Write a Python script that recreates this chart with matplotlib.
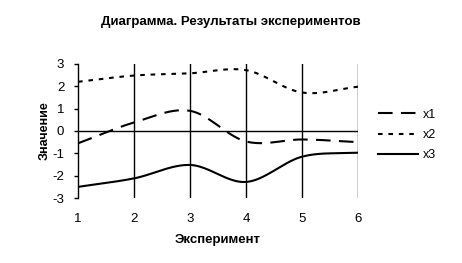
import numpy as np
import matplotlib
matplotlib.use("Agg")
import matplotlib.pyplot as plt

plt.rcParams['font.family'] = ['Liberation Sans', 'DejaVu Sans']

experiments = [1, 2, 3, 4, 5, 6]
x1 = [-0.55, 0.38, 0.9, -0.47, -0.38, -0.5]
x2 = [2.2, 2.48, 2.58, 2.72, 1.72, 1.98]
x3 = [-2.5, -2.12, -1.52, -2.28, -1.15, -0.97]
series_names = ['x1', 'x2', 'x3']
yticks = [-3, -2, -1, 0, 1, 2, 3]


def smooth(xs, ys, n=40):
    # Catmull-Rom style smoothing through the data points (Excel-like smoothed line)
    xs = np.asarray(xs, float)
    ys = np.asarray(ys, float)
    px = np.concatenate([[2 * xs[0] - xs[1]], xs, [2 * xs[-1] - xs[-2]]])
    py = np.concatenate([[2 * ys[0] - ys[1]], ys, [2 * ys[-1] - ys[-2]]])
    outx, outy = [], []
    for i in range(1, len(px) - 2):
        t = np.linspace(0, 1, n, endpoint=False)
        for arr, out in ((px, outx), (py, outy)):
            p0, p1, p2, p3 = arr[i - 1], arr[i], arr[i + 1], arr[i + 2]
            out.extend(0.5 * ((2 * p1) + (-p0 + p2) * t +
                              (2 * p0 - 5 * p1 + 4 * p2 - p3) * t ** 2 +
                              (-p0 + 3 * p1 - 3 * p2 + p3) * t ** 3))
    outx.append(xs[-1])
    outy.append(ys[-1])
    return np.array(outx), np.array(outy)


fig = plt.figure(figsize=(4.62, 2.63), dpi=100)
ax = fig.add_axes([0.169, 0.247, 0.606, 0.510])

styles = [dict(dashes=(7, 4)), dict(dashes=(2.2, 2.8)), dict(linestyle='-')]
for name, vals, st in zip(series_names, [x1, x2, x3], styles):
    sx, sy = smooth(experiments, vals)
    ax.plot(sx, sy, color='black', lw=1.5, label=name, **st)

ax.set_xlim(1, 6)
ax.set_ylim(-3, 3)
ax.set_yticks(yticks)
ax.set_yticklabels([str(v) for v in yticks], fontsize=9.5)
ax.set_xticks(experiments)
ax.set_xticklabels([str(v) for v in experiments], fontsize=9.5)
ax.tick_params(axis='x', length=0, pad=11)
ax.tick_params(axis='y', length=3, width=1, direction='out', pad=7)
for xv in experiments[1:]:
    ax.axvline(xv, color='black', lw=1, zorder=0)
ax.axhline(0, color='black', lw=1, zorder=0)
for s in ['top', 'right', 'bottom']:
    ax.spines[s].set_visible(False)
ax.spines['left'].set_linewidth(1)

ax.set_xlabel('Эксперимент', fontsize=9.5, fontweight='bold', labelpad=6)
ax.set_ylabel('Значение', fontsize=9, fontweight='bold')
ax.yaxis.set_label_coords(-0.097, 0.5)
fig.text(0.50, 0.915, 'Диаграмма. Результаты экспериментов', ha='center', va='center',
         fontsize=9.5, fontweight='bold')

leg = ax.legend(loc='center left', bbox_to_anchor=(1.03, 0.47), frameon=False,
                fontsize=9, handlelength=3.2, handletextpad=0.4, labelspacing=0.65)

fig.savefig('out.png', dpi=100)
